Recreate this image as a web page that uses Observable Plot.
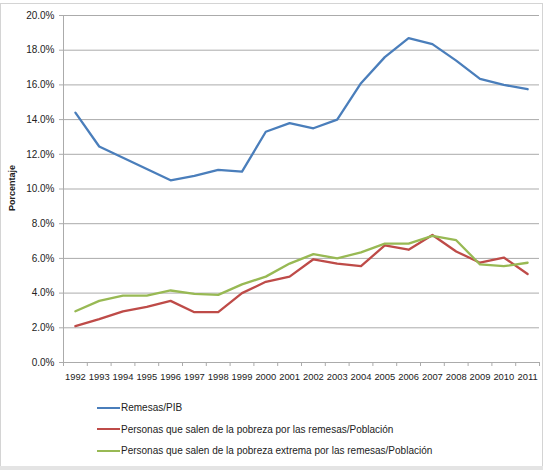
<!DOCTYPE html>
<html><head><meta charset="utf-8">
<script src="https://cdn.jsdelivr.net/npm/d3@7"></script>
<script src="https://cdn.jsdelivr.net/npm/@observablehq/plot@0.6"></script>
<style>
body{margin:0;background:#fff;font-family:"Liberation Sans",Arial,sans-serif;}
#wrap{position:relative;width:543px;height:470px;overflow:hidden;background:#fff;}
#frame{position:absolute;left:0;top:3px;width:541px;height:462px;border:1px solid #d4d4d4;}
#bottombar{position:absolute;left:0;top:466px;width:543px;height:4px;background:#e4e4e4;}
#chart{position:absolute;left:0;top:0;}
#legend{position:absolute;left:97px;top:397px;font-size:10px;color:#222;}
.row{height:21.5px;display:flex;align-items:center;white-space:nowrap;}
.sw{width:23px;height:2px;margin-right:1px;}
#ylabel{position:absolute;left:12px;top:188px;transform:translate(-50%,-50%) rotate(-90deg);font-size:9px;font-weight:bold;color:#222;white-space:nowrap;}
</style></head><body>
<div id="wrap"><div id="frame"></div><div id="bottombar"></div><div id="chart"></div><div id="ylabel">Porcentaje</div><div id="legend"></div></div>
<script>
const years = [1992,1993,1994,1995,1996,1997,1998,1999,2000,2001,2002,2003,2004,2005,2006,2007,2008,2009,2010,2011];
const remesasPIB = [14.4,12.45,11.8,11.15,10.5,10.75,11.1,11.0,13.3,13.8,13.5,14.0,16.1,17.6,18.7,18.35,17.4,16.35,16.0,15.75];
const pobreza = [2.1,2.5,2.95,3.2,3.55,2.9,2.9,4.0,4.65,4.95,5.95,5.7,5.55,6.75,6.5,7.35,6.4,5.75,6.05,5.1];
const pobrezaExtrema = [2.95,3.55,3.85,3.85,4.15,3.95,3.9,4.5,4.95,5.7,6.25,6.0,6.35,6.85,6.85,7.3,7.05,5.65,5.55,5.75];
const seriesNames = ["Remesas/PIB","Personas que salen de la pobreza por las remesas/Población","Personas que salen de la pobreza extrema por las remesas/Población"];
const seriesColors = ["#4a7ebb","#be4b48","#98b954"];
const yTicks = [0,0.02,0.04,0.06,0.08,0.10,0.12,0.14,0.16,0.18,0.20];

const allSeries = [remesasPIB, pobreza, pobrezaExtrema];
const tables = allSeries.map(s => years.map((yr,i) => ({year: yr, value: s[i]/100})));
const boundaries = years.map(y => y - 0.5).concat([years[years.length-1] + 0.5]);

const plot = Plot.plot({
  width: 543,
  height: 380,
  marginLeft: 63,
  marginRight: 4,
  marginTop: 15,
  marginBottom: 18,
  style: {fontFamily: '"Liberation Sans", Arial, sans-serif', fontSize: "10px", color: "#222", background: "transparent", overflow: "visible"},
  x: {type: "linear", domain: [boundaries[0], boundaries[boundaries.length-1]]},
  y: {domain: [0, 0.20]},
  marks: [
    Plot.gridY(yTicks, {stroke: "#ababab", strokeOpacity: 1}),
    Plot.ruleX([boundaries[0]], {stroke: "#ababab"}),
    Plot.ruleY([0], {stroke: "#ababab"}),
    Plot.axisY(yTicks, {tickSize: 4, tickPadding: 5, stroke: "#ababab", tickFormat: d3.format(".1%"), label: null, fill: "#222"}),
    Plot.axisX(boundaries, {tickSize: 4, stroke: "#ababab", tickFormat: () => "", label: null}),
    Plot.axisX(years, {tickSize: 0, tickPadding: 11, tickFormat: d => String(d), label: null, fill: "#222", fontSize: 9.4}),
    ...tables.map((t, k) => Plot.lineY(t, {x: "year", y: "value", stroke: seriesColors[k], strokeWidth: 2.3}))
  ]
});
document.getElementById("chart").appendChild(plot);

const legend = document.getElementById("legend");
seriesNames.forEach((n, k) => {
  const row = document.createElement("div");
  row.className = "row";
  row.innerHTML = `<span class="sw" style="background:${seriesColors[k]}"></span><span>${n}</span>`;
  legend.appendChild(row);
});
</script>
</body></html>
